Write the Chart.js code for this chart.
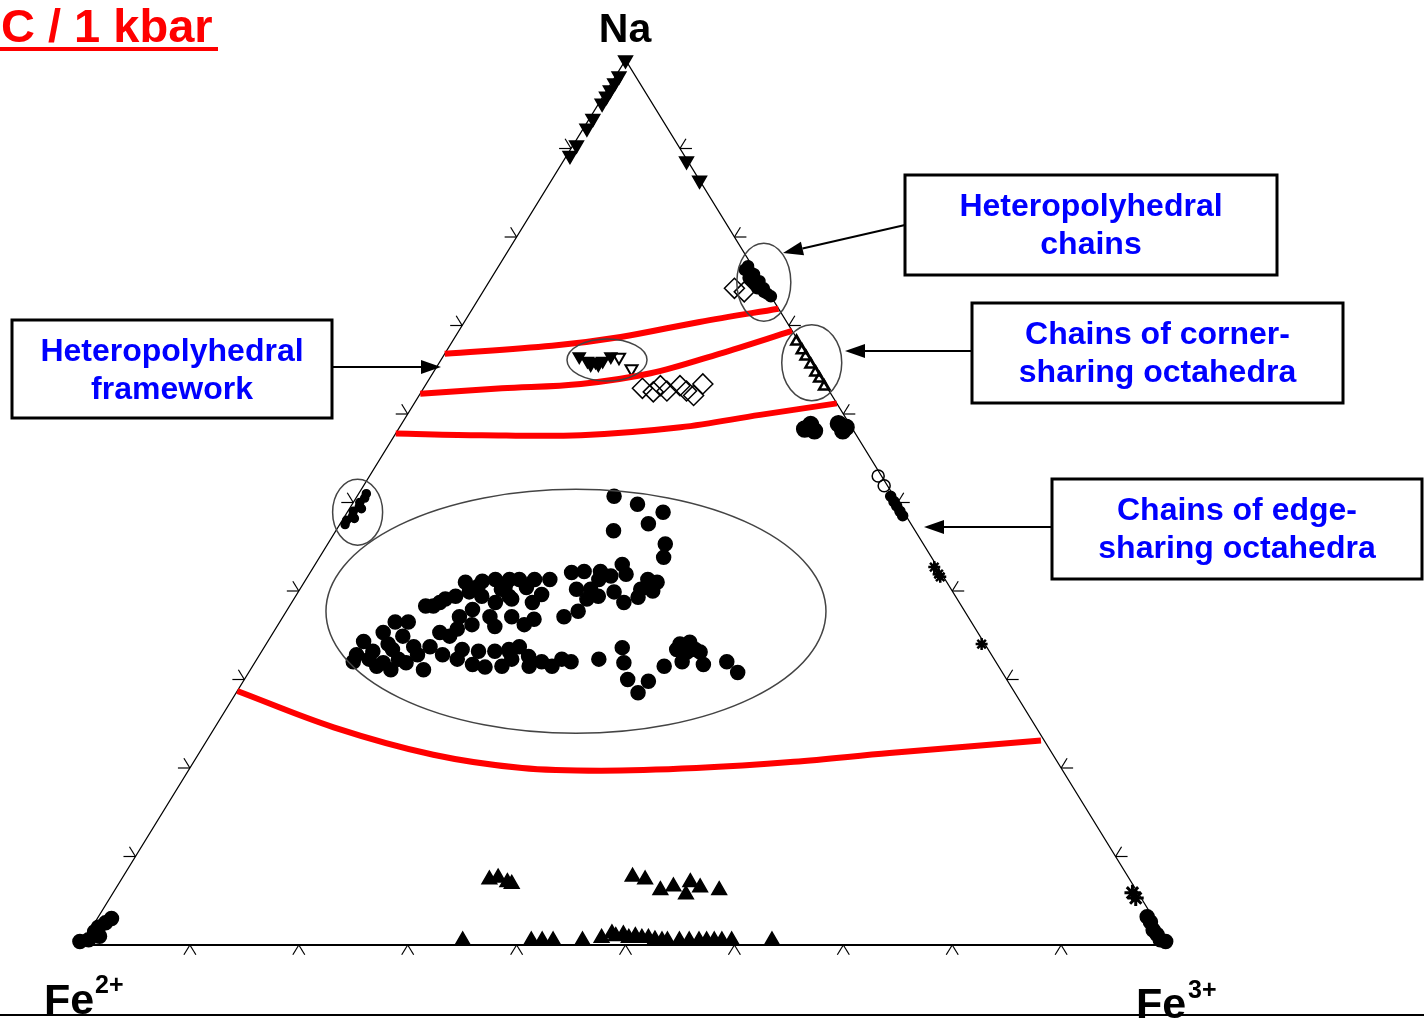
<!DOCTYPE html>
<html>
<head>
<meta charset="utf-8">
<script src="https://cdn.jsdelivr.net/npm/chart.js@4.4.0/dist/chart.umd.min.js"></script>
<style>
body { margin: 0; background: #fff; }
</style>
</head>
<body>
<canvas id="ternary" width="1424" height="1018"></canvas>
<script>
// compositions are [Na, Fe3+] in %, Fe2+ = 100 - Na - Fe3+
const sides = [[0, 100], [100, 0], [0, 0]];
const base = [[0, 0], [0, 100]];
const tickValues = [10, 20, 30, 40, 50, 60, 70, 80, 90];

// red boundaries between structure fields
const boundary1 = [[66.8, 0], [67.7, 9.4], [68.7, 15.2], [70.4, 21.6], [71.9, 28.1]];
const boundary2 = [[62.3, 0], [62.9, 7.2], [63.4, 14.2], [64.6, 20.0], [66.8, 25.2], [69.4, 30.6]];
const boundary3 = [[57.8, 0], [57.6, 8.0], [57.6, 17.1], [58.5, 25.8], [59.9, 32.4], [61.2, 38.8]];
const boundary4 = [[28.7, 0], [24.6, 10.9], [21.5, 21.6], [20.0, 30.5], [19.7, 37.9], [20.0, 46.5], [20.7, 55.1], [21.7, 63.4], [23.1, 76.6]];

// sample groups
const apexDown = [[100, 0], [98.2, 0.3], [97.4, 0.3], [96.6, 0.3], [95.9, 0.3], [95.1, 0.3], [93.4, 0.3], [92.3, 0.3], [90.4, 0.3], [89.2, 0.3], [88.6, 11.3], [86.4, 13.6]];
const chainsFilled = [[76.7, 22.9], [75.8, 23.9], [75.0, 24.8], [74.2, 25.6], [73.3, 26.7], [74.2, 25.0], [75.1, 24.0], [76.0, 23.5], [73.8, 25.8], [76.3, 22.8], [75.4, 23.6], [74.6, 24.6], [73.6, 26.2]];
const chainsDiamond = [[74.2, 22.9], [73.8, 24.0]];
const cornerTri = [[68.2, 31.6], [67.2, 32.6], [66.5, 33.3], [65.6, 34.2], [64.7, 35.1], [64.0, 35.8], [63.1, 36.7]];
const frameDown = [[66.5, 12.5], [66.0, 13.5], [65.9, 14.3], [66.0, 14.9], [66.5, 15.4], [65.6, 14.7], [65.6, 14.0]];
const frameDownOpen = [[65.1, 18.0], [66.4, 16.2]];
const frameDiamond = [[62.9, 20.1], [62.5, 21.3], [63.2, 21.6], [62.6, 22.5], [63.2, 23.4], [62.6, 24.3], [63.4, 25.4], [62.1, 25.2]];
const edgeBlobs = [[58.3, 37.3], [58.1, 38.3], [58.8, 37.6], [58.9, 40.1], [58.5, 41.0], [58.1, 40.9]];
const leftEdge = [[47.5, 0.5], [48.0, 0.4], [48.5, 0.7], [49.0, 0.5], [49.5, 0.8], [50.0, 0.6], [50.5, 0.8], [51.0, 0.7], [48.2, 1.0], [49.3, 1.1]];
const bigCluster = [
  [41.0, 14.8], [41.1, 16.3], [41.3, 17.4], [41.3, 18.7], [41.3, 19.6], [38.3, 12.5], [38.7, 13.6], [39.4, 14.7],
  [39.9, 15.7], [39.4, 17.1], [38.7, 18.7], [39.4, 19.6], [37.1, 16.2], [37.9, 17.0], [37.1, 19.0], [36.0, 20.0],
  [37.1, 21.0], [34.3, 8.8], [35.3, 10.1], [36.5, 10.6], [36.5, 11.8], [34.9, 12.1], [33.4, 11.9], [33.2, 10.2],
  [32.8, 8.9], [32.0, 9.0], [31.5, 11.4], [31.1, 12.9], [31.9, 13.9], [31.1, 15.9], [33.7, 15.2], [35.3, 15.3],
  [34.9, 16.4], [33.4, 18.3], [33.2, 19.9], [33.2, 21.4], [33.4, 22.6], [33.7, 23.4], [31.4, 21.4], [31.5, 22.9],
  [33.7, 13.7], [31.9, 11.8], [50.7, 23.6], [49.8, 26.2], [48.9, 29.0], [47.6, 28.3], [46.8, 25.5], [45.3, 31.0],
  [43.8, 31.6], [43.0, 28.2], [42.1, 24.0], [42.2, 25.1], [41.3, 26.9], [41.7, 27.8], [41.3, 31.4], [41.0, 32.4],
  [40.0, 32.5], [40.2, 25.4], [37.7, 26.8], [39.4, 27.8], [39.9, 29.0], [38.7, 30.5], [39.3, 31.5], [37.1, 25.8],
  [41.3, 22.4], [41.3, 21.0], [40.5, 18.7], [39.1, 20.0], [38.7, 22.1], [36.8, 23.2], [36.2, 22.6], [33.1, 22.8],
  [32.6, 24.8], [31.5, 25.4], [31.5, 27.5], [32.0, 29.0], [32.3, 31.4], [33.6, 32.9], [31.9, 33.9], [30.0, 35.2],
  [28.5, 36.9], [29.8, 37.2], [31.5, 37.8], [33.4, 38.0], [34.2, 38.8], [33.1, 40.3], [32.0, 39.2], [31.7, 41.3],
  [32.0, 43.3], [30.8, 44.9], [33.1, 39.1],
  [39.1, 13.9], [38.3, 13.2], [40.5, 16.2], [40.2, 18.5], [40.4, 20.7], [39.6, 22.5], [36.2, 17.8], [35.7, 16.7],
  [32.3, 10.3], [32.3, 13.0], [32.8, 16.8], [32.3, 18.4], [31.7, 20.1], [32.3, 23.4], [32.0, 26.3], [32.3, 28.0],
  [32.8, 14.5], [34.0, 11.2], [40.2, 26.7], [42.2, 26.6], [41.9, 29.1], [39.1, 26.9], [40.2, 31.3], [33.4, 39.7],
  [34.0, 38.0]
];
const edgeOpen = [[53.0, 46.7], [51.9, 47.8]];
const edgeFilled = [[50.7, 49.0], [50.1, 49.6], [49.0, 50.7], [48.5, 51.2], [49.6, 50.1]];
const edgeStars = [[42.7, 57.0], [41.9, 57.8], [41.6, 58.1], [34.0, 65.7]];
const fe2Corner = [[1.5, 0.5], [0.6, 0.4], [2.5, 1.0], [1.0, 1.2], [2.0, 0.6], [3.0, 1.3], [0.4, -0.3]];
const fe3Corner = [[0.6, 98.8], [1.7, 97.6], [2.6, 96.9], [1.2, 98.2], [3.2, 96.3], [0.4, 99.4]];
const fe3Star = [[5.3, 94.2], [5.9, 93.6]];
const upTriangles = [
  [7.4, 33.8], [7.6, 34.5], [7.1, 35.6], [6.9, 36.1],
  [7.7, 46.8], [7.4, 48.1], [6.2, 50.1], [6.6, 51.1], [7.1, 52.4], [6.5, 53.6], [6.2, 55.5], [5.7, 52.7],
  [0.5, 34.8], [0.5, 41.1], [0.5, 42.1], [0.5, 43.1], [0.5, 45.8], [0.8, 47.4], [1.3, 48.1], [1.0, 48.6],
  [1.2, 49.2], [0.8, 49.9], [1.0, 50.4], [0.8, 51.1], [0.8, 51.7], [0.6, 52.4], [0.5, 53.1], [0.5, 53.6],
  [0.5, 54.7], [0.5, 55.6], [0.5, 56.5], [0.5, 57.2], [0.5, 57.9], [0.5, 58.6], [0.5, 59.5], [0.5, 63.2]
];

function tern(p) {
  return { x: p[1] + p[0] / 2, y: p[0] };
}

function curve(data) {
  return { type: 'line', data: data.map(tern), borderColor: '#ff0000', borderWidth: 6,
    pointRadius: 0, tension: 0.35, fill: false, order: 0 };
}

function edge(data, w) {
  return { type: 'line', data: data.map(tern), borderColor: '#000', borderWidth: w,
    pointRadius: 0, fill: false, order: 3 };
}

function group(data, style, radius, filled, rotation, bw) {
  return { type: 'scatter', data: data.map(tern), pointStyle: style, pointRadius: radius,
    rotation: rotation || 0, backgroundColor: filled ? '#000' : 'rgba(255,255,255,0)',
    borderColor: '#000', borderWidth: bw || 1.5, order: 2 };
}

// boxes, arrows, ellipses, ticks and titles
const decor = {
  id: 'decor',
  afterDatasetsDraw(chart) {
    const ctx = chart.ctx;
    const sx = chart.scales.x, sy = chart.scales.y;
    const px = p => [sx.getPixelForValue(p[1] + p[0] / 2), sy.getPixelForValue(p[0])];
    ctx.save();

    // ticks
    ctx.strokeStyle = '#000';
    ctx.lineWidth = 1.2;
    const L = 1.1;
    tickValues.forEach(t => {
      const sets = [
        [[0, t], [-L, t], [-L, t + L]],
        [[t, 0], [t, -L], [t + L, -L]],
        [[t, 100 - t], [t, 100 - t + L], [t + L, 100 - t]]
      ];
      sets.forEach(g => {
        const a = px(g[0]);
        g.slice(1).forEach(q => {
          const b = px(q);
          ctx.beginPath();
          ctx.moveTo(a[0], a[1]);
          ctx.lineTo(b[0], b[1]);
          ctx.stroke();
        });
      });
    });

    // ellipses
    ctx.strokeStyle = '#444';
    ctx.lineWidth = 1.5;
    [[[74.9, 25.25], 27, 39], [[65.8, 34.2], 30, 38], [[66.1, 15.25], 40, 21],
     [[48.9, 0.95], 25, 33], [[37.7, 26.6], 250, 122]].forEach(e => {
      const c = px(e[0]);
      ctx.beginPath();
      ctx.ellipse(c[0], c[1], e[1], e[2], 0, 0, Math.PI * 2);
      ctx.stroke();
    });

    // arrows
    ctx.strokeStyle = '#000';
    ctx.fillStyle = '#000';
    ctx.lineWidth = 2;
    [[905, 225, 783, 253], [332, 367, 441, 367], [972, 351, 845, 351], [1052, 527, 924, 527]].forEach(a => {
      const ang = Math.atan2(a[3] - a[1], a[2] - a[0]);
      const hx = a[2] - Math.cos(ang) * 20, hy = a[3] - Math.sin(ang) * 20;
      ctx.beginPath();
      ctx.moveTo(a[0], a[1]);
      ctx.lineTo(hx, hy);
      ctx.stroke();
      ctx.beginPath();
      ctx.moveTo(a[2], a[3]);
      ctx.lineTo(hx + Math.sin(ang) * 7, hy - Math.cos(ang) * 7);
      ctx.lineTo(hx - Math.sin(ang) * 7, hy + Math.cos(ang) * 7);
      ctx.closePath();
      ctx.fill();
    });

    // labelled boxes
    ctx.lineWidth = 3;
    ctx.font = 'bold 32px "Liberation Sans", Arial, sans-serif';
    ctx.textAlign = 'center';
    [[905, 175, 372, 100, ['Heteropolyhedral', 'chains']],
     [12, 320, 320, 98, ['Heteropolyhedral', 'framework']],
     [972, 303, 371, 100, ['Chains of corner-', 'sharing octahedra']],
     [1052, 479, 370, 100, ['Chains of edge-', 'sharing octahedra']]].forEach(b => {
      ctx.strokeStyle = '#000';
      ctx.strokeRect(b[0], b[1], b[2], b[3]);
      ctx.fillStyle = '#0000ff';
      ctx.fillText(b[4][0], b[0] + b[2] / 2, b[1] + 41);
      ctx.fillText(b[4][1], b[0] + b[2] / 2, b[1] + 79);
    });

    // title
    ctx.fillStyle = '#ff0000';
    ctx.textAlign = 'left';
    ctx.font = 'bold 47px "Liberation Sans", Arial, sans-serif';
    ctx.fillText('C / 1 kbar', 1, 42);
    ctx.fillRect(0, 47, 218, 4);

    // apex labels
    ctx.fillStyle = '#000';
    ctx.font = 'bold 41px "Liberation Sans", Arial, sans-serif';
    ctx.textAlign = 'center';
    ctx.fillText('Na', 625, 42);
    ctx.textAlign = 'left';
    ctx.font = 'bold 43px "Liberation Sans", Arial, sans-serif';
    ctx.fillText('Fe', 44, 1014);
    ctx.fillText('Fe', 1136, 1018);
    ctx.font = 'bold 25px "Liberation Sans", Arial, sans-serif';
    ctx.fillText('2+', 95, 993);
    ctx.fillText('3+', 1188, 998);
    ctx.fillRect(0, 1014, 1424, 2);
    ctx.restore();
  }
};

new Chart(document.getElementById('ternary'), {
  type: 'scatter',
  data: {
    datasets: [
      curve(boundary1), curve(boundary2), curve(boundary3), curve(boundary4),
      edge(sides, 1.3), edge(base, 2.2),
      group(apexDown, 'triangle', 8, true, 180),
      group(chainsFilled, 'circle', 5.5, true),
      group(chainsDiamond, 'rectRot', 10, false),
      group(cornerTri, 'triangle', 6, false, 0, 2.5),
      group(frameDown, 'triangle', 7, true, 180),
      group(frameDownOpen, 'triangle', 7, false, 180, 2),
      group(frameDiamond, 'rectRot', 10, false),
      group(edgeBlobs, 'circle', 8, true),
      group(leftEdge, 'circle', 4, true),
      group(bigCluster, 'circle', 7, true),
      group(edgeOpen, 'circle', 6, false),
      group(edgeFilled, 'circle', 5, true),
      group(edgeStars, 'star', 6, false, 0, 2.5),
      group(fe2Corner, 'circle', 7, true),
      group(fe3Corner, 'circle', 7, true),
      group(fe3Star, 'star', 8, false, 0, 3),
      group(upTriangles, 'triangle', 8.5, true)
    ]
  },
  options: {
    responsive: false,
    devicePixelRatio: 1,
    animation: false,
    layout: { padding: 0, autoPadding: false },
    plugins: { legend: { display: false }, tooltip: { enabled: false } },
    scales: {
      x: { type: 'linear', min: -7.438, max: 123.32, display: false },
      y: { type: 'linear', min: -8.249, max: 106.78, display: false }
    }
  },
  plugins: [decor]
});
</script>
</body>
</html>
